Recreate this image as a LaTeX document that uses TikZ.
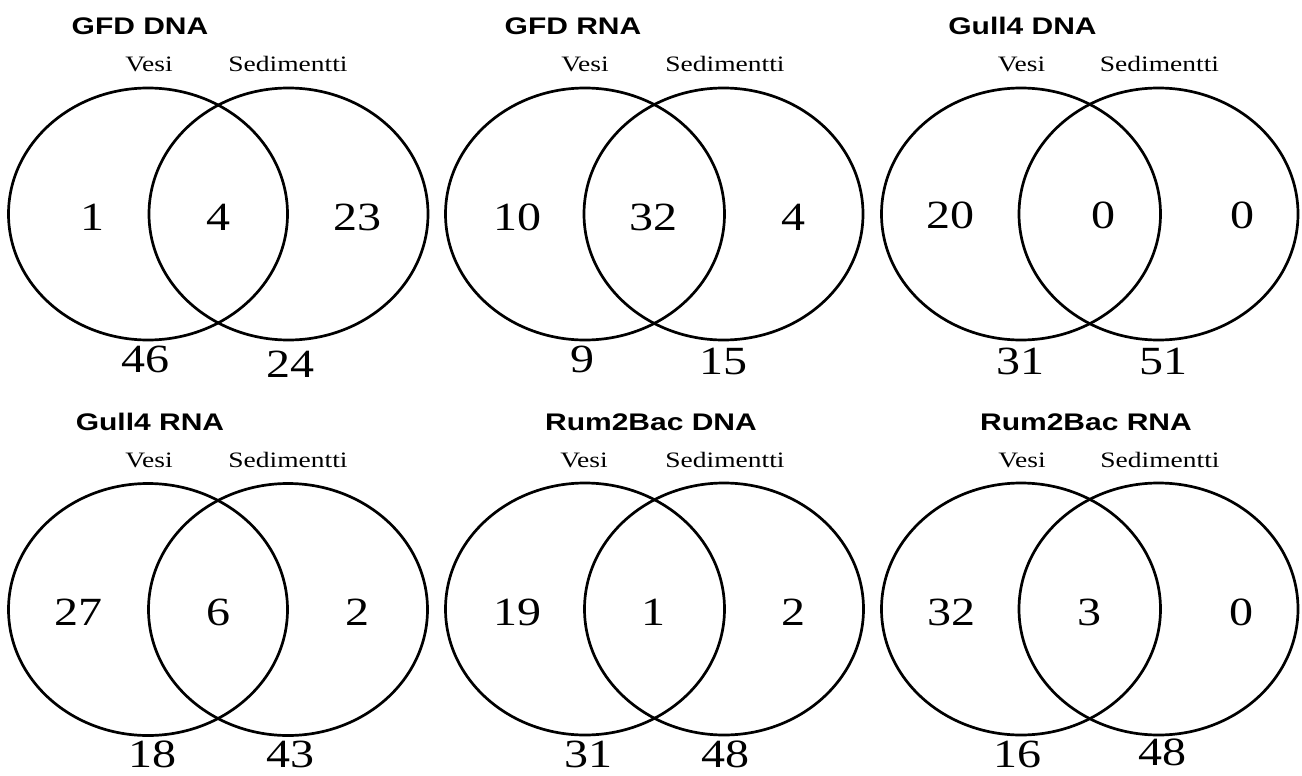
\documentclass[tikz,border=0pt]{standalone}
\usepackage{fontspec}
\usepackage{graphicx}
\setmainfont{Liberation Serif}
\newfontfamily\arialf{Liberation Sans}
\usetikzlibrary{shapes.geometric}
\tikzset{
  setshape/.style={ellipse, draw=black, line width=2.7pt, inner sep=0pt, outer sep=0pt,
    minimum width=279pt, minimum height=252pt},
  ttl/.style={anchor=base, inner sep=0pt, font=\arialf\bfseries\fontsize{24}{28}\selectfont},
  lab/.style={anchor=base, inner sep=0pt, font=\fontsize{22}{26}\selectfont},
  num/.style={anchor=base, inner sep=0pt, font=\fontsize{40}{46}\selectfont},
}
\newcommand{\wide}[1]{\scalebox{1.25}[1]{#1}}
\newcommand{\widen}[1]{\scalebox{1.2}[1]{#1}}
\begin{document}
\begin{tikzpicture}[x=1pt,y=-1pt]
\useasboundingbox (0,0) rectangle (1302,776);
% ---------- Panel 1: GFD DNA
\node[setshape] (p1a) at (148,214) {};
\node[setshape] (p1b) at (288.5,214) {};
\node[ttl] (p1t) at (140,35) {\wide{GFD DNA}};
\node[lab] (p1v) at (149,72) {\wide{Vesi}};
\node[lab] (p1s) at (288,72) {\wide{Sedimentti}};
\node[num] (p1n1) at (92,230) {\widen{1}};
\node[num] (p1n2) at (218,230) {\widen{4}};
\node[num] (p1n3) at (357,230) {\widen{23}};
\node[num] (p1c1) at (145,372) {\widen{46}};
\node[num] (p1c2) at (290,377) {\widen{24}};
% ---------- Panel 2: GFD RNA
\node[setshape] (p2a) at (585,214) {};
\node[setshape] (p2b) at (723.5,214) {};
\node[ttl] (p2t) at (573,35) {\wide{GFD RNA}};
\node[lab] (p2v) at (585,72) {\wide{Vesi}};
\node[lab] (p2s) at (725,72) {\wide{Sedimentti}};
\node[num] (p2n1) at (517,230) {\widen{10}};
\node[num] (p2n2) at (653,230) {\widen{32}};
\node[num] (p2n3) at (793,230) {\widen{4}};
\node[num] (p2c1) at (582,372) {\widen{9}};
\node[num] (p2c2) at (723,374) {\widen{15}};
% ---------- Panel 3: Gull4 DNA
\node[setshape] (p3a) at (1021,214) {};
\node[setshape] (p3b) at (1158.5,214) {};
\node[ttl] (p3t) at (1022.5,35) {\wide{Gull4 DNA}};
\node[lab] (p3v) at (1021.5,72) {\wide{Vesi}};
\node[lab] (p3s) at (1159.5,72) {\wide{Sedimentti}};
\node[num] (p3n1) at (950,228) {\widen{20}};
\node[num] (p3n2) at (1103,228) {\widen{0}};
\node[num] (p3n3) at (1242,228) {\widen{0}};
\node[num] (p3c1) at (1020,374) {\widen{31}};
\node[num] (p3c2) at (1163,374) {\widen{51}};
% ---------- Panel 4: Gull4 RNA
\node[setshape] (p4a) at (148,609.5) {};
\node[setshape] (p4b) at (288,609.5) {};
\node[ttl] (p4t) at (150,430) {\wide{Gull4 RNA}};
\node[lab] (p4v) at (149,467) {\wide{Vesi}};
\node[lab] (p4s) at (288,467) {\wide{Sedimentti}};
\node[num] (p4n1) at (78,625) {\widen{27}};
\node[num] (p4n2) at (218,625) {\widen{6}};
\node[num] (p4n3) at (357,625) {\widen{2}};
\node[num] (p4c1) at (152,767) {\widen{18}};
\node[num] (p4c2) at (290,767) {\widen{43}};
% ---------- Panel 5: Rum2Bac DNA
\node[setshape] (p5a) at (585,609) {};
\node[setshape] (p5b) at (724,609) {};
\node[ttl] (p5t) at (651,430) {\wide{Rum2Bac DNA}};
\node[lab] (p5v) at (584,467) {\wide{Vesi}};
\node[lab] (p5s) at (725,467) {\wide{Sedimentti}};
\node[num] (p5n1) at (517,625) {\widen{19}};
\node[num] (p5n2) at (653,625) {\widen{1}};
\node[num] (p5n3) at (793,625) {\widen{2}};
\node[num] (p5c1) at (588,767) {\widen{31}};
\node[num] (p5c2) at (725,767) {\widen{48}};
% ---------- Panel 6: Rum2Bac RNA
\node[setshape] (p6a) at (1021,609) {};
\node[setshape] (p6b) at (1158.5,609) {};
\node[ttl] (p6t) at (1086,430) {\wide{Rum2Bac RNA}};
\node[lab] (p6v) at (1022,467) {\wide{Vesi}};
\node[lab] (p6s) at (1160,467) {\wide{Sedimentti}};
\node[num] (p6n1) at (951,625) {\widen{32}};
\node[num] (p6n2) at (1089,625) {\widen{3}};
\node[num] (p6n3) at (1241,625) {\widen{0}};
\node[num] (p6c1) at (1017,767) {\widen{16}};
\node[num] (p6c2) at (1162,765) {\widen{48}};
\end{tikzpicture}
\end{document}
